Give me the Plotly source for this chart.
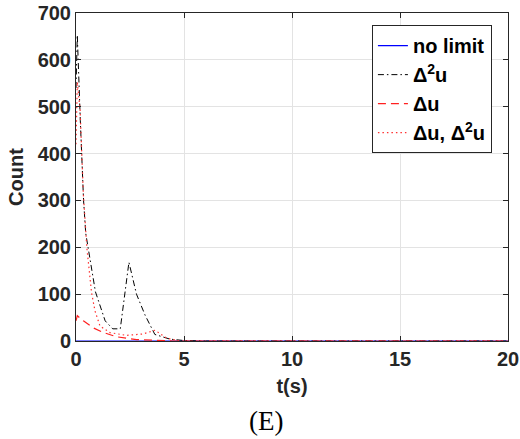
import plotly.graph_objects as go

# Time samples (s) and counts per constraint configuration
t_nolimit = [0, 5, 10, 15, 20]
c_nolimit = [0, 0, 0, 0, 0]

t_d2u = [0, 0.06, 0.2, 0.35, 0.45, 0.6, 0.9, 1.35, 1.7, 2.05, 2.45, 2.8, 3.2, 3.65, 4.35, 5.0, 6.0, 20]
c_d2u = [540, 653, 470, 300, 230, 185, 105, 43, 26, 26, 168, 100, 55, 14, 4, 1, 0, 0]

t_du = [0, 0.06, 0.34, 0.8, 1.27, 1.88, 2.8, 3.6, 4.5, 20]
c_du = [43, 54, 43, 28, 18, 9, 3, 1, 0, 0]

t_du_d2u = [0, 0.06, 0.19, 0.34, 0.5, 0.72, 0.88, 1.11, 1.57, 2.34, 3.1, 3.66, 4.2, 4.8, 20]
c_du_d2u = [420, 553, 493, 314, 200, 103, 64, 32, 18, 12, 15, 23, 6, 0, 0]

x_ticks = [0, 5, 10, 15, 20]
y_ticks = [0, 100, 200, 300, 400, 500, 600, 700]

font_main = "Liberation Sans, Arial, sans-serif"
axis_col = "#262626"

fig = go.Figure()
fig.add_trace(go.Scatter(x=t_nolimit, y=c_nolimit, mode="lines", name="no limit",
                         line=dict(color="#0000ff", width=1.2)))
fig.add_trace(go.Scatter(x=t_d2u, y=c_d2u, mode="lines", name="Δ<sup>2</sup>u",
                         line=dict(color="black", width=1, dash="6px,3px,1.5px,3px")))
fig.add_trace(go.Scatter(x=t_du, y=c_du, mode="lines", name="Δu",
                         line=dict(color="#ff2020", width=1.2, dash="8px,5px")))
fig.add_trace(go.Scatter(x=t_du_d2u, y=c_du_d2u, mode="lines", name="Δu, Δ<sup>2</sup>u",
                         line=dict(color="#ff3030", width=1.2, dash="1.5px,3px")))

axis_common = dict(
    showgrid=True, gridcolor="#e3e3e3", gridwidth=1,
    showline=True, linecolor=axis_col, linewidth=1, mirror="ticks",
    ticks="inside", ticklen=5, tickcolor=axis_col,
    zeroline=False, automargin=False,
    tickfont=dict(family=font_main, size=20, color=axis_col, weight="bold"),
)

fig.update_xaxes(range=[0, 20], tickvals=x_ticks,
                 title=dict(text="t(s)", font=dict(family=font_main, size=20, color=axis_col, weight="bold"),
                            standoff=9),
                 **axis_common)
fig.update_yaxes(range=[0, 700], tickvals=y_ticks, **axis_common)

# y-axis title placed as a rotated label
fig.add_annotation(text="Count", xref="paper", yref="paper", x=-0.139, y=0.5,
                   xanchor="center", yanchor="middle", textangle=-90, showarrow=False,
                   font=dict(family=font_main, size=20, color=axis_col, weight="bold"))

fig.add_annotation(text="(E)", xref="paper", yref="paper", x=0.439, y=-0.244,
                   xanchor="center", yanchor="middle", showarrow=False,
                   font=dict(family="Liberation Serif, Times New Roman, serif", size=27, color="black"))

fig.update_layout(
    width=520, height=439,
    margin=dict(l=76, r=12, t=13, b=98),
    paper_bgcolor="white", plot_bgcolor="white",
    showlegend=True,
    legend=dict(x=0.685, y=0.963, xanchor="left", yanchor="top",
                bgcolor="white", bordercolor=axis_col, borderwidth=1,
                font=dict(family=font_main, size=20, color="black", weight="bold"),
                tracegroupgap=0, itemwidth=30, entrywidth=104, entrywidthmode="pixels"),
)

fig.write_html("out.html")
